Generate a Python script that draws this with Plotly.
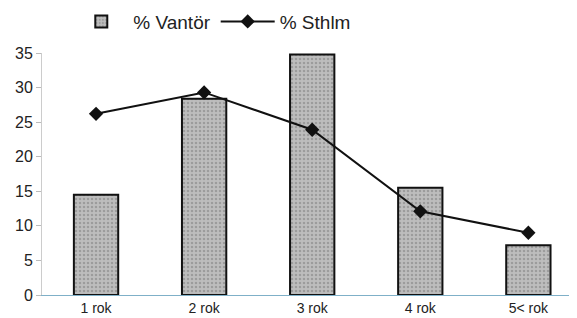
import plotly.graph_objects as go

categories = ["1 rok", "2 rok", "3 rok", "4 rok", "5< rok"]
vantor = [14.5, 28.4, 34.8, 15.5, 7.2]
sthlm = [26.2, 29.3, 23.9, 12.1, 9.0]
y_ticks = [0, 5, 10, 15, 20, 25, 30, 35]

fig = go.Figure()
fig.add_trace(go.Bar(
    x=categories, y=vantor, name="% Vantör", width=0.41,
    marker=dict(color="#b4b4b4", line=dict(color="#111111", width=2),
                pattern=dict(shape=".", fgcolor="#7a7a7a", bgcolor="#bdbdbd", size=4, solidity=0.3)),
))
fig.add_trace(go.Scatter(
    x=categories, y=sthlm, name="% Sthlm", mode="lines+markers",
    line=dict(color="#111111", width=2),
    marker=dict(symbol="diamond", size=11, color="#111111"),
))
# page body has an 8px default margin, so the figure is sized to fit the window
fig.update_layout(
    width=569, height=310,
    margin=dict(l=34, r=0, t=45, b=23, autoexpand=False),
    paper_bgcolor="white", plot_bgcolor="white",
    font=dict(family="Liberation Sans, Arial, sans-serif", color="#222222", size=13),
    showlegend=True,
    legend=dict(orientation="h", x=0.051, y=1.13, xanchor="left", yanchor="middle",
                font=dict(size=19), itemwidth=54, traceorder="normal",
                bgcolor="rgba(0,0,0,0)"),
    bargap=0.6,
)
fig.update_xaxes(range=[-0.5, 4.45], showgrid=False, showline=True, linecolor="#7fb0c8",
                 linewidth=1, ticks="", tickfont=dict(size=14), automargin=False)
fig.update_yaxes(range=[0, 35], tickvals=y_ticks, showgrid=False, showline=True,
                 linecolor="#cccccc", linewidth=1, ticks="outside", ticklen=5,
                 tickcolor="#bbbbbb", tickfont=dict(size=16), zeroline=False, automargin=False)
fig.write_html("out.html")
